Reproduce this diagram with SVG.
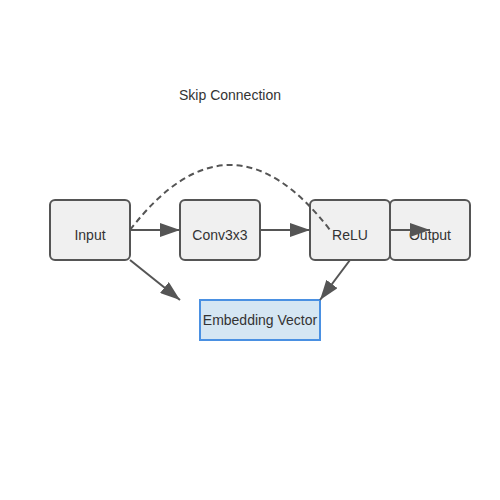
<svg xmlns="http://www.w3.org/2000/svg" width="500" height="500" viewBox="0 0 500 500">
<style>
.node rect{fill:#f0f0f0;stroke:#555;stroke-width:2}
.emb rect{fill:#d5e6f3;stroke:#4a90e2;stroke-width:2}
text{font-family:"Liberation Sans",Arial,sans-serif;font-size:14px;fill:#333;text-anchor:middle}
.edge{stroke:#555;stroke-width:2;fill:none}
.dash{stroke:#555;stroke-width:2;fill:none;stroke-dasharray:6,4}
</style>
<defs>
<marker id="arr" markerWidth="10" markerHeight="7" refX="10" refY="3.5" orient="auto" markerUnits="strokeWidth">
<polygon points="0 0, 10 3.5, 0 7" fill="#555"/>
</marker>
</defs>
<rect width="500" height="500" fill="#fff"/>
<text x="230" y="100">Skip Connection</text>
<g id="input" class="node"><rect x="50" y="200" width="80" height="60" rx="5"/><text x="90" y="240">Input</text></g>
<g id="conv" class="node"><rect x="180" y="200" width="80" height="60" rx="5"/><text x="220" y="240">Conv3x3</text></g>
<g id="relu" class="node"><rect x="310" y="200" width="80" height="60" rx="5"/><text x="350" y="240">ReLU</text></g>
<g id="output" class="node"><rect x="390" y="200" width="80" height="60" rx="5"/><text x="430" y="240">Output</text></g>
<g id="embedding" class="emb"><rect x="200" y="300" width="120" height="40"/><text x="260" y="325">Embedding Vector</text></g>
<g id="connectors">
<line class="edge" x1="130" y1="230" x2="180" y2="230" marker-end="url(#arr)"/>
<line class="edge" x1="260" y1="230" x2="310" y2="230" marker-end="url(#arr)"/>
<line class="edge" x1="390" y1="230" x2="430" y2="230" marker-end="url(#arr)"/>
<line class="edge" x1="130" y1="260" x2="180" y2="300" marker-end="url(#arr)"/>
<line class="edge" x1="350" y1="260" x2="320" y2="300" marker-end="url(#arr)"/>
<path class="dash" d="M130 230 Q230 100 330 230"/>
</g>
</svg>
